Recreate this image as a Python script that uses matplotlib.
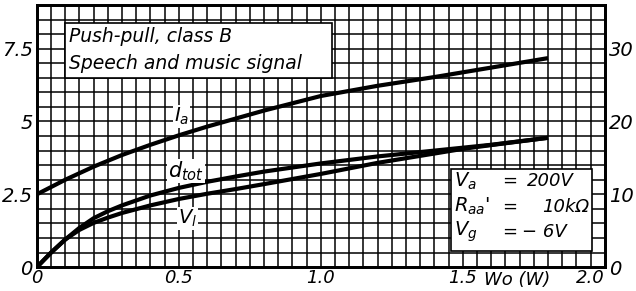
import matplotlib
matplotlib.use("Agg")
import matplotlib.pyplot as plt
from matplotlib.patches import Rectangle

# ---- data ----
w_ia = [0.0, 0.1, 0.2, 0.3, 0.4, 0.5, 0.6, 0.7, 0.8, 0.9, 1.0, 1.2, 1.4, 1.6, 1.8]
ia_ma = [10.0, 12.0, 13.8, 15.4, 16.8, 18.1, 19.3, 20.4, 21.5, 22.5, 23.5, 24.9, 26.1, 27.4, 28.7]

w_d = [0.0, 0.05, 0.1, 0.15, 0.2, 0.25, 0.3, 0.4, 0.5, 0.6, 0.7, 0.8, 1.0, 1.2, 1.4, 1.5, 1.6, 1.8]
d_tot = [0.0, 0.5, 0.95, 1.35, 1.68, 1.92, 2.12, 2.46, 2.72, 2.93, 3.11, 3.28, 3.56, 3.8, 4.0, 4.1, 4.2, 4.44]
v_i = [0.0, 0.5, 0.95, 1.28, 1.52, 1.7, 1.86, 2.12, 2.34, 2.52, 2.68, 2.85, 3.2, 3.58, 3.9, 4.06, 4.19, 4.44]

x_ticks = [0.0, 0.5, 1.0, 1.5, 2.0]
x_labels = ["0", "0.5", "1.0", "1.5", "2.0"]
yl_ticks = [0, 2.5, 5, 7.5]
yl_labels = ["0", "2.5", "5", "7.5"]
yr_ticks = [0, 10, 20, 30]
yr_labels = ["0", "10", "20", "30"]

plt.rcParams['font.family'] = ['DejaVu Sans']
plt.rcParams['mathtext.fontset'] = 'dejavusans'

fig = plt.figure(figsize=(6.36, 2.91), dpi=100)
ax = fig.add_axes([0.058, 0.082, 0.893, 0.901])
ax.set_xlim(0, 2.0)
ax.set_ylim(0, 9)

# grid
for i in range(1, 40):
    ax.axvline(i * 0.05, color='black', lw=1.1, zorder=1)
for j in range(1, 18):
    ax.axhline(j * 0.5, color='black', lw=1.1, zorder=1)
for s in ax.spines.values():
    s.set_linewidth(2.0)

ax.tick_params(axis='y', length=0, pad=3)
ax.tick_params(axis='x', length=0, pad=1.5)
ax.set_xticks(x_ticks)
ax.set_xticklabels(x_labels, fontsize=13, style='italic')
for lab in ax.get_xticklabels():
    if lab.get_text() == "2.0":
        lab.set_horizontalalignment('right')
ax.set_yticks(yl_ticks)
ax.set_yticklabels(yl_labels, fontsize=14, style='italic')

ax2 = ax.twinx()
ax2.set_ylim(0, 36)
ax2.set_yticks(yr_ticks)
ax2.set_yticklabels(yr_labels, fontsize=14, style='italic')
ax2.tick_params(length=0, pad=3)
for s in ax2.spines.values():
    s.set_linewidth(2.0)

# curves
ax.plot(w_d, d_tot, color='black', lw=3, solid_joinstyle='round', solid_capstyle='butt', zorder=3)
ax.plot(w_d, v_i, color='black', lw=3, solid_joinstyle='round', solid_capstyle='butt', zorder=3)
ax2.plot(w_ia, ia_ma, color='black', lw=3, solid_joinstyle='round', solid_capstyle='butt', zorder=3)

# curve labels
ax.text(0.51, 5.17, r"$I_a$", fontsize=14, ha='center', va='center', zorder=4,
        bbox=dict(facecolor='white', edgecolor='none', pad=0.5))
ax.text(0.525, 3.3, r"$d_{tot}$", fontsize=15, ha='center', va='center', zorder=4,
        bbox=dict(facecolor='white', edgecolor='none', pad=0.5))
ax.text(0.53, 1.68, r"$V_l$", fontsize=14, ha='center', va='center', zorder=4,
        bbox=dict(facecolor='white', edgecolor='none', pad=0.5))

# upper-left box
ax.add_patch(Rectangle((0.1, 6.48), 0.94, 1.9, facecolor='white', edgecolor='black',
                       lw=1.2, zorder=4))
ax.text(0.112, 7.92, "Push-pull, class B", fontsize=13.5, style='italic',
        ha='left', va='center', zorder=5)
ax.text(0.112, 7.0, "Speech and music signal", fontsize=13.5, style='italic',
        ha='left', va='center', zorder=5)

# lower-right box
ax.add_patch(Rectangle((1.46, 0.55), 0.494, 2.83, facecolor='white', edgecolor='black',
                       lw=1.2, zorder=4))
ax.text(1.468, 2.95, r"$V_a$", fontsize=14, ha='left', va='center', zorder=5)
ax.text(1.468, 2.07, r"$R_{aa}$'", fontsize=14, ha='left', va='center', zorder=5)
ax.text(1.468, 1.2, r"$V_g$", fontsize=14, ha='left', va='center', zorder=5)
for yy in (2.95, 2.07, 1.2):
    ax.text(1.665, yy, "=", fontsize=13, ha='center', va='center', zorder=5)
ax.text(1.725, 2.95, "200V", fontsize=13, style='italic', ha='left', va='center', zorder=5)
ax.text(1.78, 2.07, "10kΩ", fontsize=13, style='italic', ha='left', va='center', zorder=5)
ax.text(1.71, 1.2, "\u2212 6V", fontsize=13, style='italic', ha='left', va='center', zorder=5)

# x-axis quantity label, on the tick-label line
ax.annotate("Wo (W)", xy=(1.69, 0), xycoords=('data', 'axes fraction'),
            xytext=(0, -3), textcoords='offset points',
            fontsize=13, style='italic', ha='center', va='top', annotation_clip=False)

fig.savefig("out.png", dpi=100)
